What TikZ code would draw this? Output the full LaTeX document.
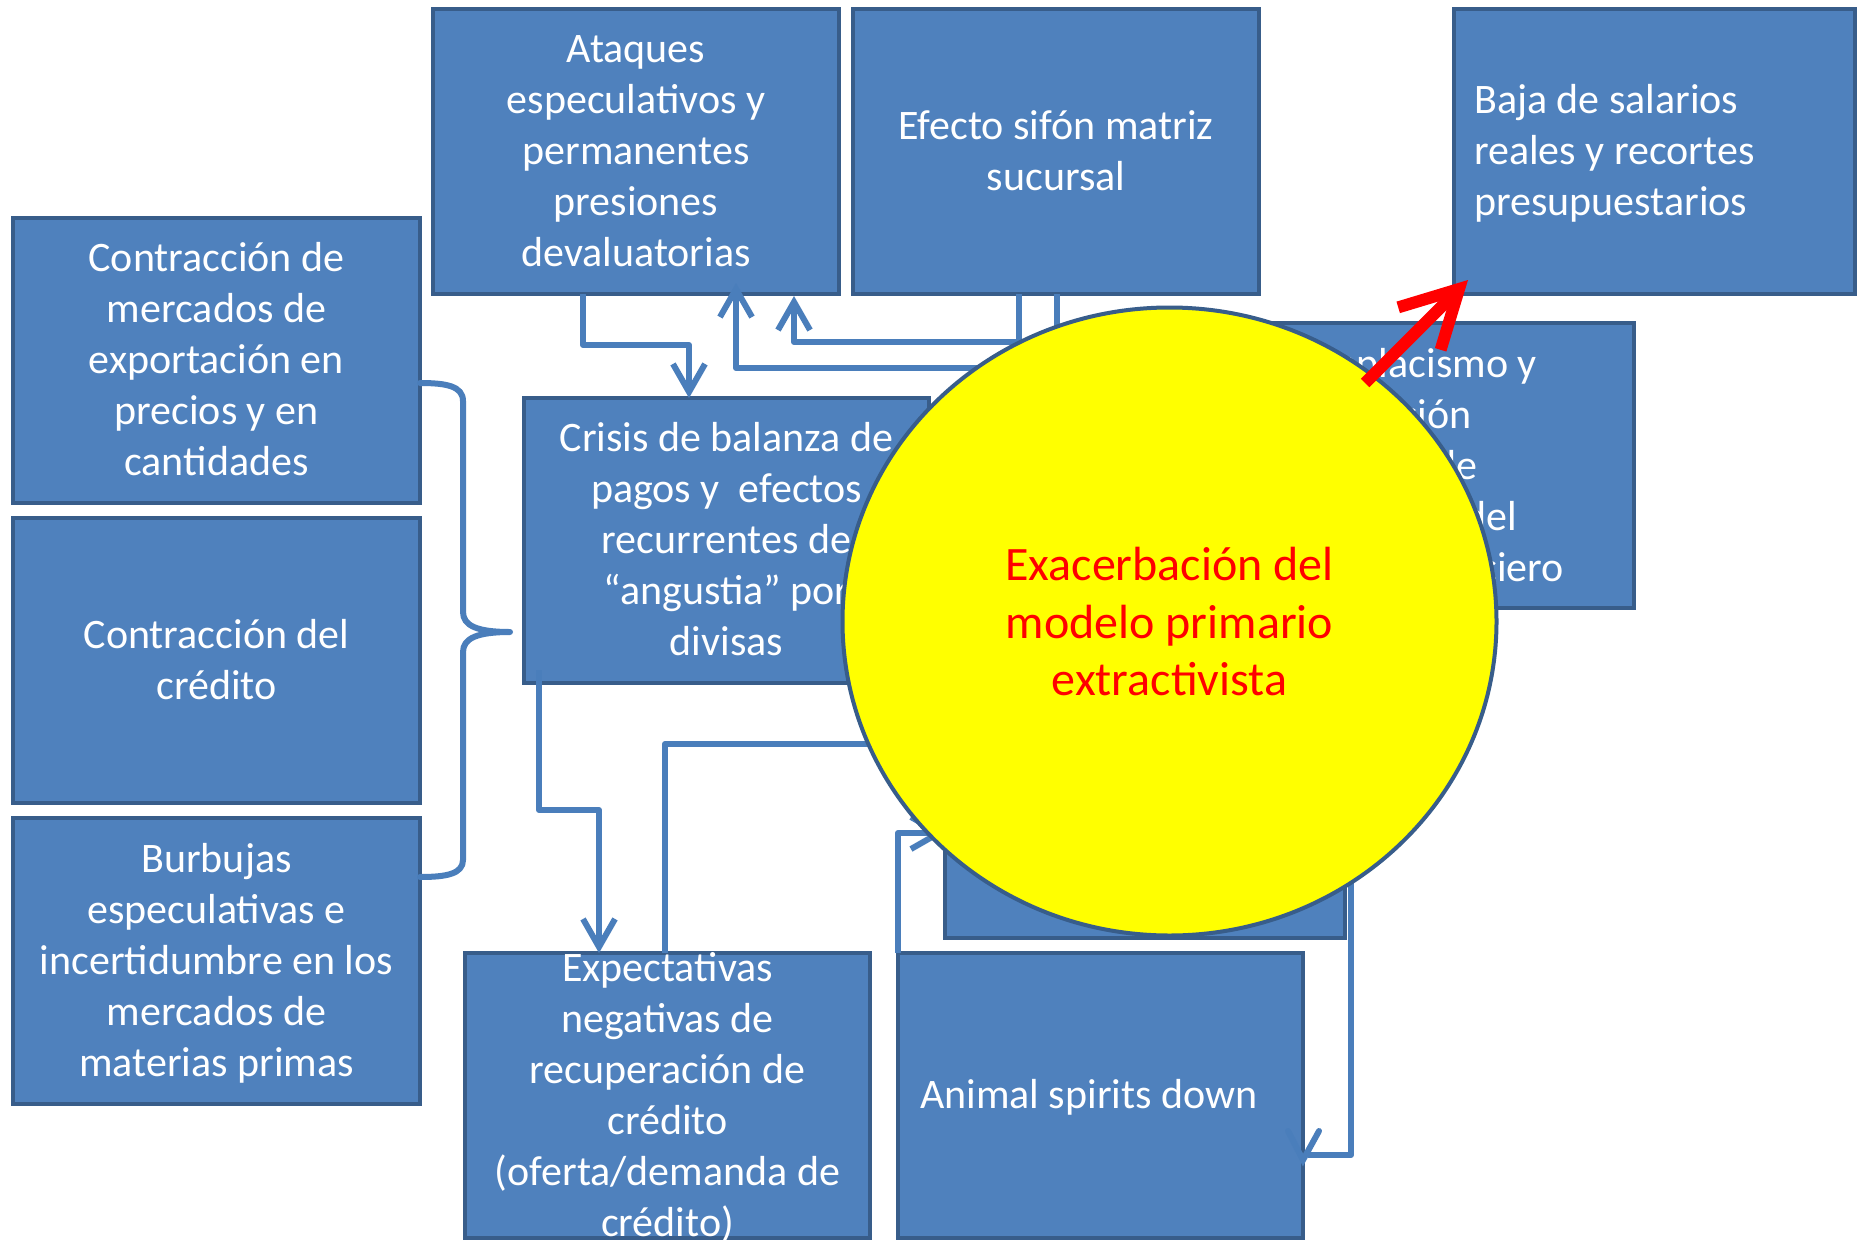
\documentclass[tikz,border=0pt]{standalone}
\usepackage{fontspec}
\setmainfont{Carlito}
\usetikzlibrary{arrows.meta,calc,fit,shapes.geometric}
\definecolor{boxfill}{HTML}{4F81BD}
\definecolor{boxline}{HTML}{385D8A}
\definecolor{connblue}{HTML}{4A7EBB}
\definecolor{pureyellow}{RGB}{255,255,0}
\definecolor{purered}{RGB}{255,0,0}
\begin{document}
\begin{tikzpicture}[x=1pt,y=-1pt,
  box/.style={draw=boxline,fill=boxfill,line width=4pt,inner sep=0pt,outer sep=0pt},
  txt/.style={text=white,align=center,inner sep=0pt,font=\fontsize{42}{51}\selectfont},
  ltxt/.style={txt,align=left,anchor=west},
  rtxt/.style={txt,anchor=east},
  conn/.style={draw=connblue,line width=6pt,line join=round},
  arr/.style={-{Straight Barb[length=28pt,width=32pt]}},
  ]
\fill[white] (0,0) rectangle (1860,1242);
\useasboundingbox (0,0) rectangle (1860,1242);

% boxes
\node[box,fit={(433,9)(839,294)}] (ataq) {};
\node[box,fit={(853,9)(1259,294)}] (efec) {};
\node[box,fit={(1454,9)(1855,294)}] (baja) {};
\node[box,fit={(13,218)(420,503)}] (cmerc) {};
\node[box,fit={(13,518)(420,803)}] (ccred) {};
\node[box,fit={(13,818)(420,1104)}] (burb) {};
\node[box,fit={(524,398)(929,683)}] (crisis) {};
\node[box,fit={(1257,323)(1634,608)}] (compl) {};
\node[box,fit={(945,652)(1345,938)}] (oculto) {};
\node[box,fit={(465,953)(870,1238)}] (expec) {};
\node[box,fit={(898,953)(1303,1238)}] (anim) {};

% texts
\node[txt] (ataqT) at ($(ataq.center)+(0,3)$) {\strut Ataques\\especulativos y\\permanentes\\presiones\\devaluatorias\strut};
\node[txt] (efecT) at ($(efec.center)+(0,3)$) {\strut Efecto sifón matriz\\sucursal\strut};
\node[ltxt] (bajaT) at ($(baja.west)+(20,3)$) {\strut Baja de salarios\\reales y recortes\\presupuestarios\strut};
\node[txt] (cmercT) at ($(cmerc.center)+(0,3)$) {\strut Contracción de\\mercados de\\exportación en\\precios y en\\cantidades\strut};
\node[txt] (ccredT) at ($(ccred.center)+(0,3)$) {\strut Contracción del\\crédito\strut};
\node[txt] (burbT) at ($(burb.center)+(0,3)$) {\strut Burbujas\\especulativas e\\incertidumbre en los\\mercados de\\materias primas\strut};
\node[txt] (crisisT) at ($(crisis.center)+(0,3)$) {\strut Crisis de balanza de\\pagos y\ \ efectos\\recurrentes de\\“angustia” por\\divisas\strut};
% partly hidden box: lines set flush with their visible ends
\node[rtxt] (compl1) at ($(compl.north west)+(280,44)$) {\strut Complacismo y};
\node[rtxt] (compl2) at ($(compl.north west)+(215,95)$) {\strut supervisión};
\node[rtxt] (compl3) at ($(compl.north west)+(221,146)$) {\strut ausencia de};
\node[rtxt] (compl4) at ($(compl.north west)+(260,197)$) {\strut del};
\node[rtxt] (compl5) at ($(compl.north west)+(307,248)$) {\strut financiero};
\node[txt] (expecT) at ($(expec.center)+(0,3)$) {\strut Expectativas\\negativas de\\recuperación de\\crédito\\(oferta/demanda de\\crédito)\strut};
\node[ltxt] (animT) at ($(anim.west)+(22,3)$) {\strut Animal spirits down\strut};

% connectors
\draw[conn,arr] ($(ataq.south west)+(150,0)$) |- ($(crisis.north west)+(165,-53)$) -- ($(crisis.north west)+(165,0)$);
\draw[conn,arr] ($(efec.south west)+(166,0)$) |- ($(ataq.south west)+(361,48)$) -- ($(ataq.south west)+(361,2)$);
\draw[conn,arr] ($(efec.south west)+(204,0)$) |- ($(ataq.south west)+(303,74)$) -- ($(ataq.south west)+(303,-11)$);
\coordinate (braceA) at ($(cmerc.south east)+(0,-120)$);
\coordinate (braceB) at ($(burb.north east)+(0,59)$);
\coordinate (braceT) at ($(crisis.south west)+(-14,-51)$);
\draw[conn,line cap=round] (braceA) .. controls (446,383) and (463,386) .. (463,401) -- (463,612)
  .. controls (463,626) and (478,632) .. (braceT)
  .. controls (478,632) and (463,638) .. (463,652) -- (463,860)
  .. controls (463,874) and (446,877) .. (braceB);
\draw[conn,arr] ($(crisis.south west)+(15,-13)$) |- ($(expec.north west)+(134,-143)$) -- ($(expec.north west)+(134,0)$);
\draw[conn,arr] ($(expec.north west)+(200,0)$) |- ($(oculto.south west)+(0,-194)$);
\draw[conn,arr] (anim.north west) |- ($(oculto.south west)+(0,-105)$);
\draw[conn] ($(compl.south west)+(94,0)$) |- ($(anim.north east)+(5,202)$);
\draw[conn,line cap=round,line join=miter] ($(anim.north east)+(-15,178)$) -- ($(anim.north east)+(0,207)$) -- ($(anim.north east)+(16,178)$);

% central ellipse
\node[ellipse,draw=boxline,fill=pureyellow,line width=4pt,minimum width=654pt,minimum height=628pt,inner sep=0pt] (circ) at (1169.5,621.5) {};
\node[txt,text=purered,font=\fontsize{48}{57.5}\selectfont] (circT) at ($(circ.center)+(0,5)$) {\strut Exacerbación del\\modelo primario\\extractivista\strut};

% red arrow
\coordinate (redS) at ($(baja.south west)+(-89,89)$);
\coordinate (redE) at ($(baja.south west)+(14,-14)$);
\draw[purered,line width=12pt,-{Straight Barb[length=56pt,width=60pt]}] (redS) -- (redE);
\end{tikzpicture}
\end{document}
